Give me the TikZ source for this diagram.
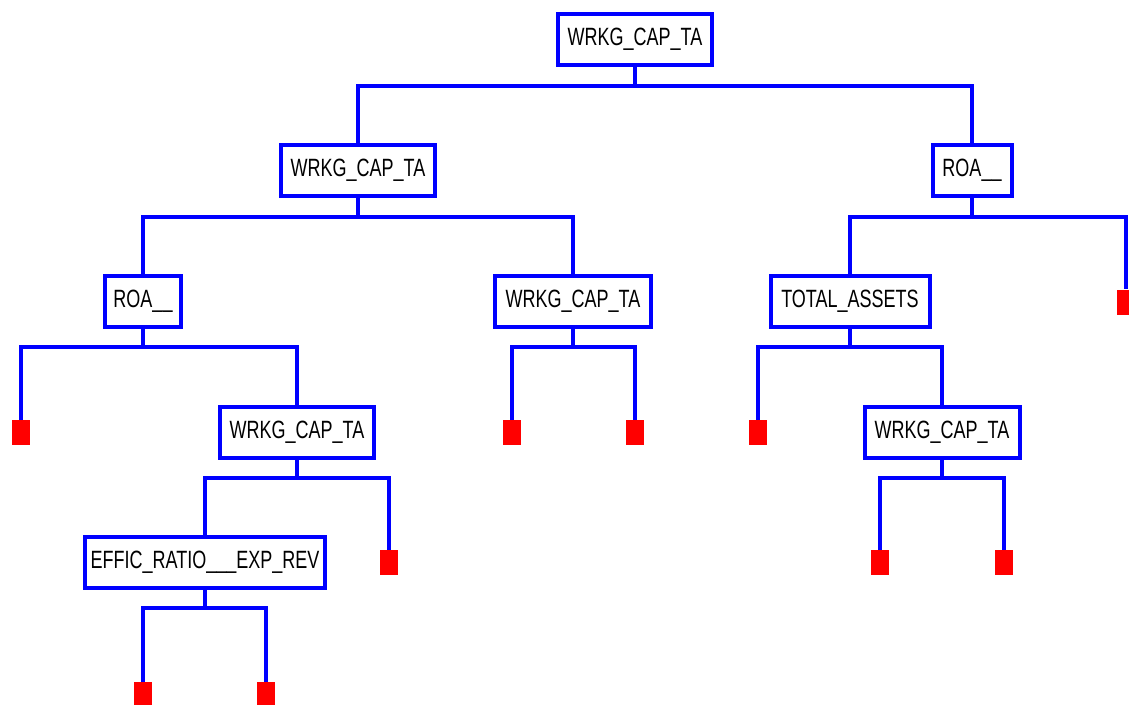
\documentclass[tikz,border=0pt]{standalone}
\usepackage{fontspec}
\newfontfamily\treefont{Liberation Sans}[FakeStretch=0.72]
\usepackage{tikz}
\usetikzlibrary{positioning}

\begin{document}
\begin{tikzpicture}[
			x=1pt, y=1pt,
			box/.style={
				rectangle,
				draw=blue,
				fill=white,
				line width=4pt,
				minimum width=#1,
				minimum height=51pt,
				inner xsep=2pt,
				inner ysep=0pt,
				text=black,
				font=\treefont\fontsize{25}{28}\selectfont
			},
			box/.default=154pt,
			leaf/.style={
				rectangle,
				fill=red,
				minimum width=18pt,
				minimum height=25pt,
				inner sep=0pt
			},
			link/.style={
				draw=blue,
				line width=4pt
			}
			]
			
			% Frame FIRST
			\useasboundingbox (0,0) rectangle (1129,-704);
			\clip (0,0) rectangle (1129,-704);
			
			% Level 1
			\node[box] (root) at (635,-39.5) {WRKG\_CAP\_TA};
			
			% Level 2
			\node[box] (wcL) at (358,-170.5) {WRKG\_CAP\_TA};
			\node[box=79pt] (roaR) at (972,-170.5) {ROA\_\_};
			\draw[link] (root.south) -- ++(0,-18.5) -| (wcL.north);
			\draw[link] (root.south) -- ++(0,-18.5) -| (roaR.north);
			
			% Level 3
			\node[box=76pt] (roaL) at (143,-301) {ROA\_\_};
			\node[box=156pt] (wcM) at (573,-301) {WRKG\_CAP\_TA};
			\node[box=159pt] (totA) at (850,-301) {TOTAL\_ASSETS};
			\node[leaf] (lfR) at (1126,-302) {};
			\draw[link] (wcL.south) -- ++(0,-18.5) -| (roaL.north);
			\draw[link] (wcL.south) -- ++(0,-18.5) -| (wcM.north);
			\draw[link] (roaR.south) -- ++(0,-18.5) -| (totA.north);
			\draw[link] (roaR.south) -- ++(0,-18.5) -| (lfR.north);
			
			% Level 4
			\node[leaf] (lf1) at (21,-432.5) {};
			\node[box] (wcLL) at (297,-432) {WRKG\_CAP\_TA};
			\node[leaf] (lf2) at (512,-432.5) {};
			\node[leaf] (lf3) at (635,-432.5) {};
			\node[leaf] (lf4) at (758,-432.5) {};
			\node[box=155pt] (wcRR) at (942,-432) {WRKG\_CAP\_TA};
			\draw[link] (roaL.south) -- ++(0,-18.5) -| (lf1.north);
			\draw[link] (roaL.south) -- ++(0,-18.5) -| (wcLL.north);
			\draw[link] (wcM.south) -- ++(0,-18.5) -| (lf2.north);
			\draw[link] (wcM.south) -- ++(0,-18.5) -| (lf3.north);
			\draw[link] (totA.south) -- ++(0,-18.5) -| (lf4.north);
			\draw[link] (totA.south) -- ++(0,-18.5) -| (wcRR.north);
			
			% Level 5
			\node[box=240pt] (effic) at (205,-562) {EFFIC\_RATIO\_\_\_EXP\_REV};
			\node[leaf] (lf5) at (389,-562.5) {};
			\node[leaf] (lf6) at (880,-562.5) {};
			\node[leaf] (lf7) at (1004,-562.5) {};
			\draw[link] (wcLL.south) -- ++(0,-18.5) -| (effic.north);
			\draw[link] (wcLL.south) -- ++(0,-18.5) -| (lf5.north);
			\draw[link] (wcRR.south) -- ++(0,-18.5) -| (lf6.north);
			\draw[link] (wcRR.south) -- ++(0,-18.5) -| (lf7.north);
			
			% Level 6
			\node[leaf] (lf8) at (143,-694.5) {};
			\node[leaf] (lf9) at (266,-694.5) {};
			\draw[link] (effic.south) -- ++(0,-18.5) -| (lf8.north);
			\draw[link] (effic.south) -- ++(0,-18.5) -| (lf9.north);
			
		\end{tikzpicture}
\end{document}
